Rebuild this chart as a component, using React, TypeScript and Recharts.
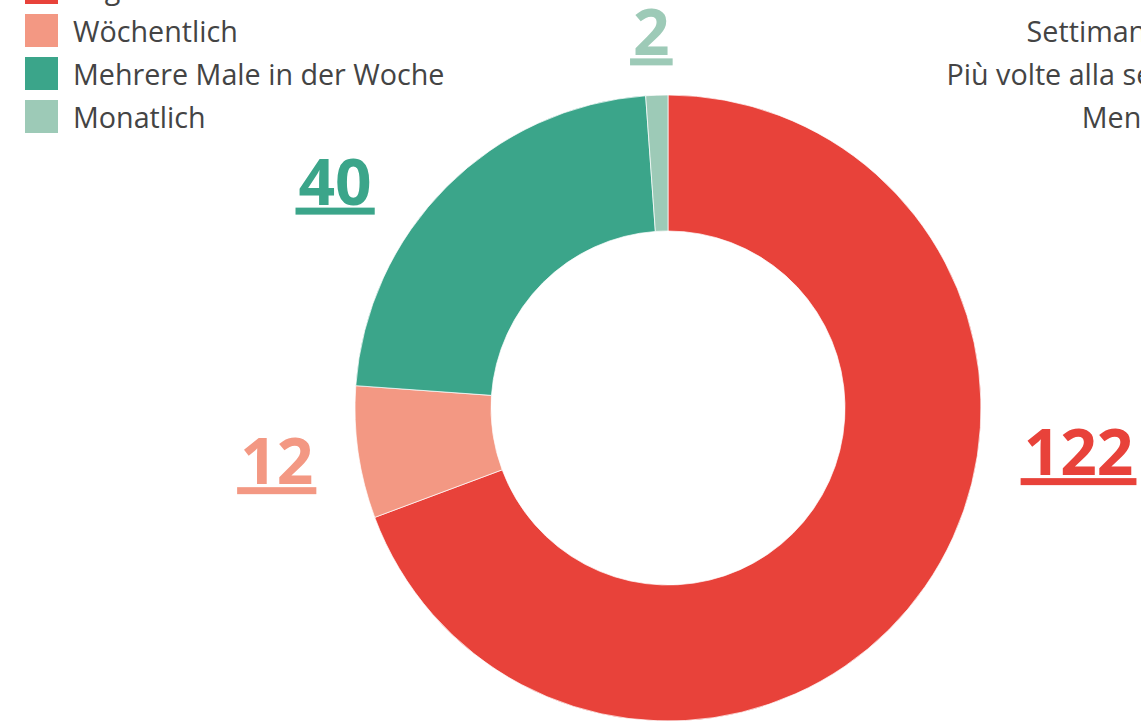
import React from "react";
import { PieChart, Pie, Cell } from "recharts";

const categoriesDe = ["Täglich", "Wöchentlich", "Mehrere Male in der Woche", "Monatlich"];
const categoriesIt = ["Giornalmente", "Settimanalmente", "Più volte alla settimana", "Mensilmente"];
const counts = [122, 12, 40, 2];
const colors = ["#E8423A", "#F39883", "#3BA58A", "#9DCAB7"];

// label placement tweaks (angle shift in degrees, radial offset in px beyond outer radius)
const labelAngleShift = [28.5, -0.3, 10.9, 0.5];
const labelRadialOffset = [100, 82, 89, 62];

const W = 1336;
const H = 800;
const TOP_OFF = 50;
const FONT = "'Open Sans', sans-serif";
const LABEL_FS = 64;

const data = categoriesDe.map((name, i) => ({ name, value: counts[i] }));

const RAD = Math.PI / 180;

function renderLabel(props: any) {
  const { cx, cy, midAngle, outerRadius, index, value } = props;
  const ang = midAngle + labelAngleShift[index];
  const r = outerRadius + labelRadialOffset[index];
  const x = cx + r * Math.cos(-ang * RAD);
  const yc = cy + r * Math.sin(-ang * RAD);
  const baseline = yc + 22;
  const txt = String(value);
  const w = txt.length * 0.572 * LABEL_FS + 6;
  return (
    <g key={`lbl-${index}`}>
      <text
        x={x}
        y={baseline}
        textAnchor="middle"
        fill={colors[index]}
        style={{ fontFamily: FONT, fontWeight: 700, fontSize: LABEL_FS }}
      >
        {txt}
      </text>
      <rect x={x - w / 2} y={baseline + 3} width={w} height={7} fill={colors[index]} />
    </g>
  );
}

function LegendBlock({ labels, side }: { labels: string[]; side: "left" | "right" }) {
  return (
    <div
      style={{
        position: "absolute",
        top: TOP_OFF - 29,
        [side]: side === "left" ? 25 : 32,
        display: "flex",
        flexDirection: "column",
        alignItems: side === "left" ? "flex-start" : "flex-end",
      } as React.CSSProperties}
    >
      {labels.map((l, i) => (
        <div
          key={l}
          style={{
            display: "flex",
            flexDirection: side === "left" ? "row" : "row-reverse",
            alignItems: "center",
            height: 33,
            marginBottom: 10,
            whiteSpace: "nowrap",
          }}
        >
          <div style={{ width: 33, height: 33, background: colors[i], flex: "none" }} />
          <div
            style={{
              fontFamily: FONT,
              fontSize: 28.7,
              color: "#444",
              lineHeight: "33px",
              [side === "left" ? "marginLeft" : "marginRight"]: 15,
            } as React.CSSProperties}
          >
            {l}
          </div>
        </div>
      ))}
    </div>
  );
}

export default function App() {
  return (
    <div
      style={{
        position: "fixed",
        left: 0,
        top: 0,
        width: 1141,
        height: 722,
        overflow: "hidden",
        background: "#fff",
      }}
    >
      <div style={{ position: "absolute", left: 0, top: -TOP_OFF, width: W, height: H }}>
        <PieChart width={W} height={H}>
          <Pie
            data={data}
            dataKey="value"
            nameKey="name"
            cx={663}
            cy={403 + TOP_OFF}
            innerRadius={177}
            outerRadius={313}
            startAngle={90}
            endAngle={-270}
            stroke="#fff"
            strokeWidth={0.7}
            label={renderLabel}
            labelLine={false}
            isAnimationActive={false}
          >
            {data.map((d, i) => (
              <Cell key={d.name} fill={colors[i]} />
            ))}
          </Pie>
        </PieChart>
        <LegendBlock labels={categoriesDe} side="left" />
        <LegendBlock labels={categoriesIt} side="right" />
      </div>
    </div>
  );
}
